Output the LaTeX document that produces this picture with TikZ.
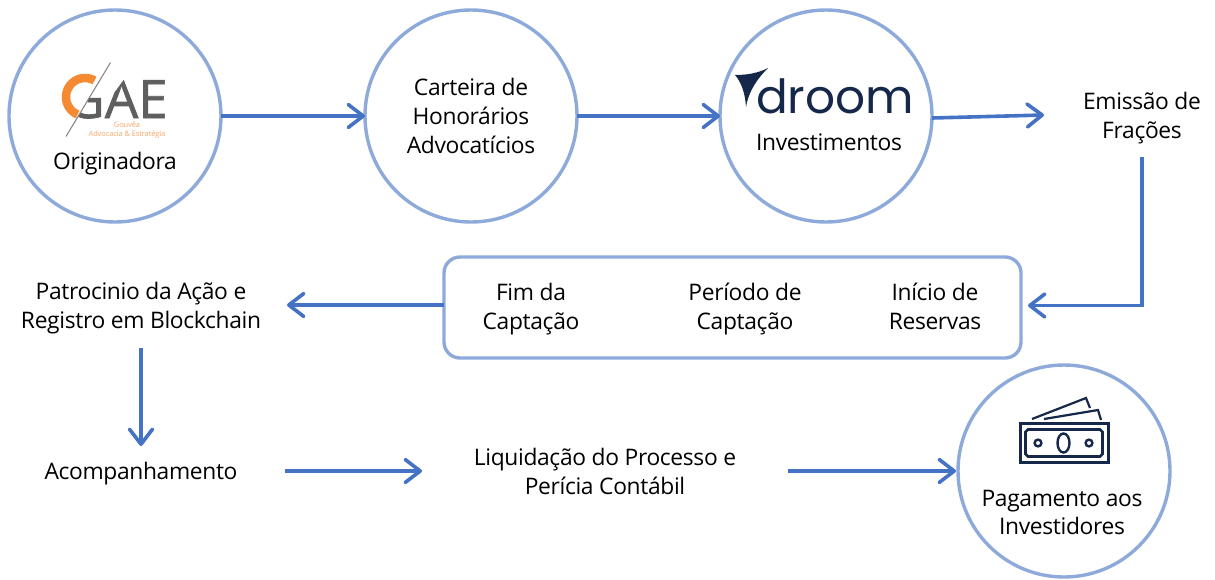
\documentclass[tikz,border=0pt]{standalone}
\usepackage{fontspec}
\setmainfont[LetterSpace=-1.5]{Open Sans}
\newfontfamily\logofont[FakeBold=1.2]{Open Sans}
\newfontfamily\droomfont{Poppins}
\usetikzlibrary{arrows.meta}
\definecolor{ringc}{HTML}{8EAADB}
\definecolor{arrowc}{HTML}{4472C4}
\definecolor{navy}{HTML}{16284A}
\definecolor{gaeo}{HTML}{F58A33}
\definecolor{gaes}{HTML}{F7A86A}
\definecolor{gaeg}{HTML}{5F5F5F}
\tikzset{
 ring/.style={circle,draw=ringc,line width=3.4pt,minimum size=212pt,inner sep=0pt,outer sep=0pt,fill=white},
 lbl/.style={font=\fontsize{22.8pt}{28.8pt}\selectfont,align=center,text=black,inner sep=0pt,outer sep=0pt},
 flow/.style={draw=arrowc,line width=3.6pt,-{Straight Barb[length=15pt,width=23pt,line width=3.6pt,round]}},
}
\begin{document}
\begin{tikzpicture}[x=1pt,y=-1pt]
\useasboundingbox (0,0) rectangle (1215,579);
% circles
\node[ring] (c1) at (115,116) {};
\node[ring] (c2) at (471,116) {};
\node[ring] (c3) at (826,116) {};
\node[ring] (c4) at (1064,471) {};
% reservas box
\node[draw=ringc,line width=3.4pt,rounded corners=16pt,minimum width=577pt,minimum height=101pt,inner sep=0pt,outer sep=0pt] (box) at (732.5,307.5) {};
% texts
\node[lbl] (orig) at (115,164) {Originadora};
\node[lbl] (cart) at (471,116) {Carteira de\\Honorários\\Advocatícios};
\node[lbl] (inv) at (829,142) {Investimentos};
\node[lbl,minimum width=196pt,minimum height=78pt] (emis) at (1142,118) {Emissão de\\Frações};
\node[lbl] (fim) at (531,309) {Fim da\\Captação};
\node[lbl] (per) at (745,309) {Período de\\Captação};
\node[lbl] (ini) at (935,306) {Início de\\Reservas};
\node[lbl,minimum width=292pt,minimum height=80pt] (pat) at (141,308) {Patrocinio da Ação e\\Registro em Blockchain};
\node[lbl,minimum width=288pt,minimum height=56pt] (aco) at (141,474) {Acompanhamento};
\node[lbl,minimum width=366pt] (liq) at (605,471.5) {Liquidação do Processo e\\Perícia Contábil};
\node[lbl] (pag) at (1062,512.5) {Pagamento aos\\Investidores};
% GAE logo
\begin{scope}
\clip (90,96) -- (112,96) -- (125,78) -- (172,78) -- (172,122) -- (75,122) -- cycle;
\node[font=\logofont\fontsize{53pt}{53pt}\selectfont,text=gaeg,inner sep=0pt,anchor=base east] (gae) at (168,118) {GAE};
\end{scope}
\draw[gaeo,line width=8.5pt] plot[domain=113:300,samples=40] ({85+19*cos(\x)},{97+19*sin(\x)});
\draw[gray,line width=1pt] (110.5,62.5) -- (66,136.5);
\node[font=\fontsize{7.5pt}{8.5pt}\selectfont,text=gaes,align=center,inner sep=0pt] (gaesub) at (127,130) {Gouvêa\\Advocacia \& Estratégia};
% droom logo
\fill[navy] (735,75) .. controls (748,75) and (758,73) .. (768,68) .. controls (758,78) and (749,90) .. (746,107) .. controls (745,92) and (741,82) .. (735,75) -- cycle;
\node[font=\droomfont\fontsize{47pt}{47pt}\selectfont,text=navy,inner sep=0pt,anchor=base] (droom) at (835,113) {droom};
% money icon
\draw[navy,line width=3pt] (1020.5,423.5) rectangle (1108,462);
\draw[navy,line width=2.6pt] (1028,429.5) -- (1100,429.5) -- (1102.5,432) -- (1102.5,454) -- (1100,456.5) -- (1028,456.5) -- (1025.5,454) -- (1025.5,432) -- cycle;
\draw[navy,line width=2.4pt] (1063.5,443) ellipse (6pt and 9.5pt);
\draw[navy,line width=2.4pt] (1038,443) circle (3.4pt);
\draw[navy,line width=2.4pt] (1089,443) circle (3.4pt);
\draw[navy,line width=2.2pt] (1032,419) -- (1086,398) -- (1090,408);
\draw[navy,line width=2.2pt] (1044,419) -- (1098,410) -- (1101,420);
% connectors
\draw[flow] (c1.east) -- (c2.west);
\draw[flow] (c2.east) -- (c3.west);
\draw[flow] ([yshift=-2pt]c3.east) -- ([yshift=3pt]emis.west);
\draw[flow] (emis.south) |- ([xshift=7pt,yshift=2pt]box.east);
\draw[flow] ([yshift=2.5pt]box.west) -- ([yshift=3pt]pat.east);
\draw[flow] (pat.south) -- (aco.north);
\draw[flow] ([yshift=3pt]aco.east) -- ([yshift=0.5pt]liq.west);
\draw[flow] ([yshift=0.5pt]liq.east) -- ([xshift=-2pt]c4.west);
\end{tikzpicture}
\end{document}
